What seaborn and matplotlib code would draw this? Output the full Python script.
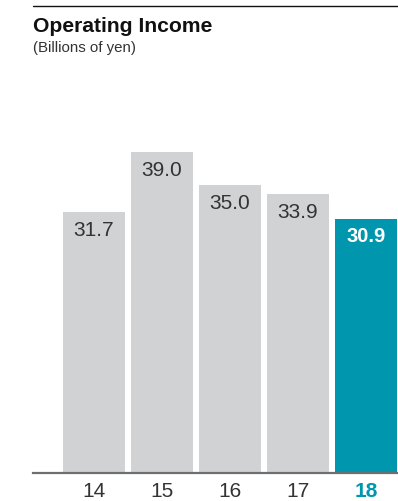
import matplotlib
matplotlib.use("Agg")
import matplotlib.pyplot as plt
import seaborn as sns
from matplotlib.lines import Line2D

years = ["14", "15", "16", "17", "18"]
values = [31.7, 39.0, 35.0, 33.9, 30.9]
labels = ["31.7", "39.0", "35.0", "33.9", "30.9"]
highlight = "18"

GREY = "#d1d2d4"
TEAL = "#0097ae"
TXT = "#333333"

sns.set_theme(style="white")
plt.rcParams["font.family"] = ["Liberation Sans", "DejaVu Sans"]

W, H = 398, 502
fig = plt.figure(figsize=(W / 100, H / 100), dpi=100)
left_px, right_px, bottom_px, top_px = 33, 398, 474, 60
ax = fig.add_axes([left_px / W, (H - bottom_px) / H, (right_px - left_px) / W, (bottom_px - top_px) / H])

palette = {y: (TEAL if y == highlight else GREY) for y in years}
sns.barplot(x=years, y=values, hue=years, palette=palette, legend=False,
            width=62 / 68, saturation=1, ax=ax, linewidth=0)

# scale: 8.23 px per unit
ax.set_ylim(0, (bottom_px - top_px) / 8.23)
xl0 = -(94 - left_px) / 68
ax.set_xlim(xl0, xl0 + (right_px - left_px) / 68)

for i, (y, v, lab) in enumerate(zip(years, values, labels)):
    if y == highlight:
        ax.annotate(lab, (i, v), xytext=(0, -16.3), textcoords="offset points",
                    ha="center", va="baseline", fontsize=14.5, fontweight="bold", color="white")
    else:
        ax.annotate(lab, (i, v), xytext=(0, -16.3), textcoords="offset points",
                    ha="center", va="baseline", fontsize=15, color=TXT)

for s in ["top", "right", "left"]:
    ax.spines[s].set_visible(False)
ax.spines["bottom"].set_color("#6d6e71")
ax.spines["bottom"].set_linewidth(1.6)
ax.set_yticks([])
ax.set_ylabel("")
ax.set_xlabel("")
ax.tick_params(axis="x", length=0, pad=5.5, labelsize=15, labelcolor=TXT)
for t in ax.get_xticklabels():
    if t.get_text() == highlight:
        t.set_color(TEAL)
        t.set_fontweight("bold")

fig.add_artist(Line2D([32.5 / W, 1], [1 - 7.3 / H, 1 - 7.3 / H], color="#111111", lw=1.0))
fig.text(left_px / W, 1 - 31.7 / H, "Operating Income", fontsize=15.2, fontweight="bold",
         color="#111111", ha="left", va="baseline")
fig.text(left_px / W, 1 - 51.7 / H, "(Billions of yen)", fontsize=10.8,
         color="#333333", ha="left", va="baseline")

fig.savefig("out.png", dpi=100)
